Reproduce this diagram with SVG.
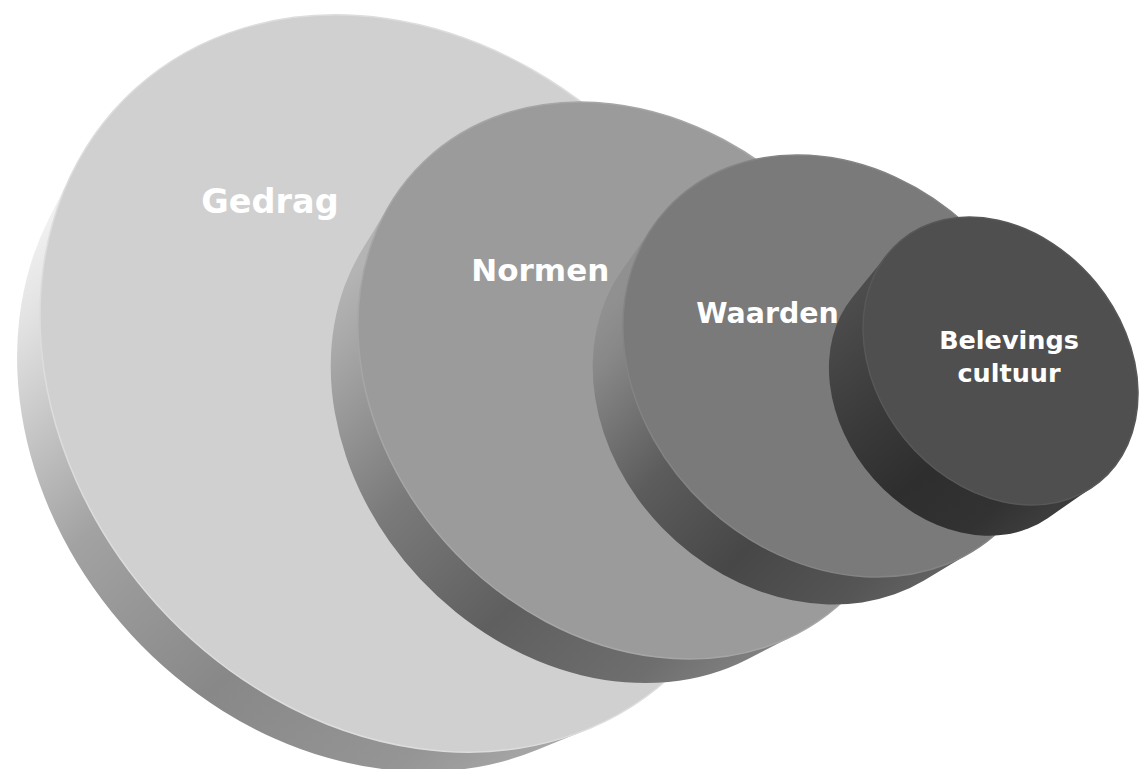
<svg xmlns="http://www.w3.org/2000/svg" width="1141" height="769" viewBox="0 0 1141 769">
<defs>
<linearGradient id="sideG" gradientUnits="userSpaceOnUse" x1="-1" y1="0" x2="1" y2="0">
<stop offset="0.05" stop-color="#f0f0f0"/><stop offset="0.125" stop-color="#e2e2e2"/><stop offset="0.375" stop-color="#a2a2a2"/><stop offset="0.625" stop-color="#888888"/><stop offset="0.855" stop-color="#959595"/><stop offset="0.97" stop-color="#a8a8a8"/>
</linearGradient>
<linearGradient id="sideN" gradientUnits="userSpaceOnUse" x1="-1" y1="0" x2="1" y2="0">
<stop offset="0.05" stop-color="#b4b4b4"/><stop offset="0.125" stop-color="#a8a8a8"/><stop offset="0.375" stop-color="#7a7a7a"/><stop offset="0.625" stop-color="#5f5f5f"/><stop offset="0.855" stop-color="#6e6e6e"/><stop offset="0.97" stop-color="#808080"/>
</linearGradient>
<linearGradient id="sideW" gradientUnits="userSpaceOnUse" x1="-1" y1="0" x2="1" y2="0">
<stop offset="0.05" stop-color="#909090"/><stop offset="0.125" stop-color="#888888"/><stop offset="0.375" stop-color="#5c5c5c"/><stop offset="0.625" stop-color="#474747"/><stop offset="0.855" stop-color="#555555"/><stop offset="0.97" stop-color="#626262"/>
</linearGradient>
<linearGradient id="sideB" gradientUnits="userSpaceOnUse" x1="-1" y1="0" x2="1" y2="0">
<stop offset="0.05" stop-color="#4c4c4c"/><stop offset="0.125" stop-color="#484848"/><stop offset="0.375" stop-color="#3a3a3a"/><stop offset="0.625" stop-color="#2e2e2e"/><stop offset="0.855" stop-color="#323232"/><stop offset="0.97" stop-color="#3c3c3c"/>
</linearGradient>
</defs>
<style>
.face{stroke-width:1.5;vector-effect:non-scaling-stroke}
.lbl{font-family:"DejaVu Sans","Verdana",sans-serif;font-weight:bold;fill:#ffffff;text-anchor:middle}
</style>
<g id="gedrag">
<g transform="translate(402 383.5) rotate(47.8) scale(397.5 330)">
<path fill="url(#sideG)" d="M0.958 0.2867 L0.9115 0.4418 A0.95 0.95 0 0 1 -0.9037 0.4579 L-0.9528 0.3037 Z"/>
<circle class="face" r="1" fill="#d0d0d0" stroke="#dddddd"/>
</g>
<text class="lbl" x="270" y="213" font-size="33.5">Gedrag</text>
</g>
<g id="normen">
<g transform="translate(634.5 380.5) rotate(46) scale(303.7 248.6)">
<path fill="url(#sideN)" d="M0.9711 0.2389 L0.9187 0.4518 A0.95 0.95 0 0 1 -0.9335 0.4204 L-0.9786 0.2059 Z"/>
<circle class="face" r="1" fill="#9b9b9b" stroke="#a6a6a6"/>
</g>
<text class="lbl" x="540.3" y="280.7" font-size="31">Normen</text>
</g>
<g id="waarden">
<g transform="translate(837 366) rotate(42.8) scale(231.5 191.7)">
<path fill="url(#sideW)" d="M0.9724 0.2334 L0.9054 0.5125 A0.95 0.95 0 0 1 -0.9627 0.3944 L-0.994 0.109 Z"/>
<circle class="face" r="1" fill="#7a7a7a" stroke="#848484"/>
</g>
<text class="lbl" x="767.5" y="323.3" font-size="28.4">Waarden</text>
</g>
<g id="belevingscultuur">
<g transform="translate(1000.5 361) rotate(50.7) scale(156.2 123.4)">
<path fill="url(#sideB)" d="M0.9981 0.0619 L0.9702 0.5108 A0.95 0.95 0 0 1 -0.9159 0.6028 L-0.9873 0.1587 Z"/>
<circle class="face" r="1" fill="#4f4f4f" stroke="#585858"/>
</g>
<text class="lbl" x="1009" y="349" font-size="25.5">Belevings</text>
<text class="lbl" x="1009" y="381.7" font-size="25.5">cultuur</text>
</g>
<g id="connectors"/>
</svg>
